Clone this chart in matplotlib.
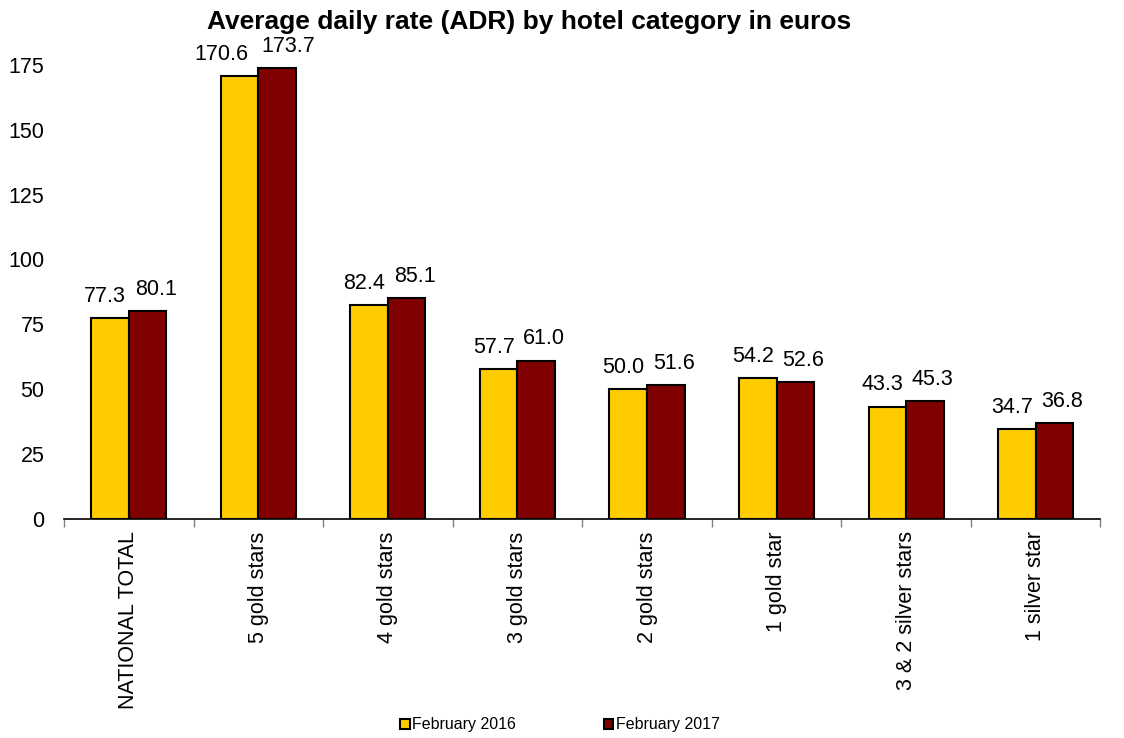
import numpy as np
import matplotlib
matplotlib.use("Agg")
import matplotlib.pyplot as plt

plt.rcParams["font.family"] = ["Liberation Sans", "DejaVu Sans"]

categories = ["NATIONAL TOTAL", "5 gold stars", "4 gold stars", "3 gold stars",
              "2 gold stars", "1 gold star", "3 & 2 silver stars", "1 silver star"]
feb_2016 = [77.3, 170.6, 82.4, 57.7, 50.0, 54.2, 43.3, 34.7]
feb_2017 = [80.1, 173.7, 85.1, 61.0, 51.6, 52.6, 45.3, 36.8]
series_names = ["February 2016", "February 2017"]
colors = ["#FFCC00", "#800000"]

fig = plt.figure(figsize=(11.24, 7.38), dpi=100)
ax = fig.add_axes([0.057, 0.297, 0.922, 0.615])

x = np.arange(len(categories))
w = 0.29
# labels are nudged apart like the source: 2016 to the left, 2017 to the right
nudge = [(-5, -13), (8, 3)]  # (base px offset, extra per char beyond 4)
bars = []
for i, (vals, name, c) in enumerate(zip([feb_2016, feb_2017], series_names, colors)):
    pos = x + (i - 0.5) * w
    b = ax.bar(pos, vals, w, color=c, edgecolor="black", linewidth=1.5, label=name)
    bars.append(b)
    for p, v in zip(pos, vals):
        s = f"{v:.1f}"
        dx = nudge[i][0] + nudge[i][1] * (len(s) - 4)
        ax.annotate(s, (p, v), xytext=(dx * 0.72, 8), textcoords="offset points",
                    ha="center", va="bottom", fontsize=15.5)

ax.set_xlim(-0.5, len(categories) - 0.5)
ax.set_ylim(0, 175)
ax.set_yticks(np.arange(0, 176, 25))
ax.tick_params(axis="y", length=0, labelsize=15.5, pad=14)
ax.set_xticks(x)
ax.set_xticklabels(categories, rotation=90, fontsize=15.5)
ax.tick_params(axis="x", length=0, pad=9)
ax.set_xticks(np.arange(-0.5, len(categories)), minor=True)
ax.tick_params(axis="x", which="minor", length=6, color="#808080", width=1)
for s in ["top", "right", "left"]:
    ax.spines[s].set_visible(False)
ax.spines["bottom"].set_linewidth(1.2)

ax.set_title("Average daily rate (ADR) by hotel category in euros",
             fontsize=19, fontweight="bold", pad=26, x=0.449)

fig.legend(handles=bars, labels=series_names, loc="lower center",
           bbox_to_anchor=(0.498, -0.012), ncol=2, frameon=False, fontsize=11.5,
           handlelength=0.6, handleheight=0.6, handletextpad=0.15, columnspacing=5.5)

fig.savefig("out.png", dpi=100)
